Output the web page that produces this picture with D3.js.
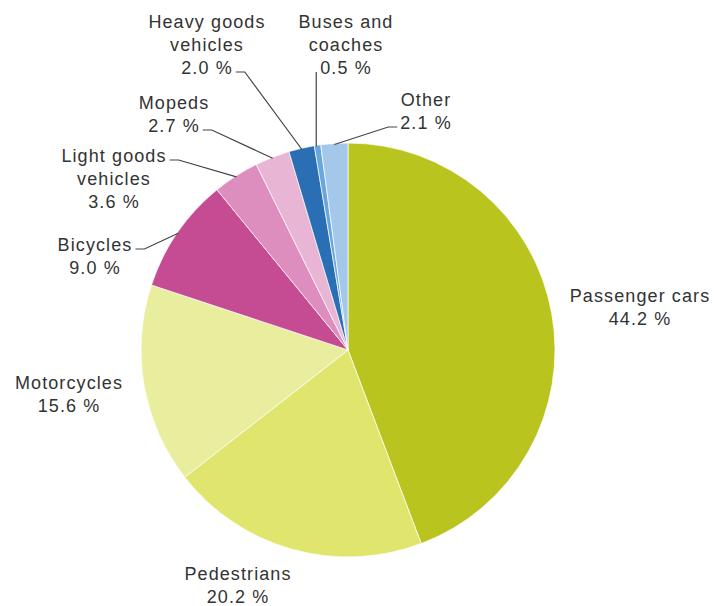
<!DOCTYPE html>
<html>
<head>
<meta charset="utf-8">
<script src="https://cdn.jsdelivr.net/npm/d3@7"></script>
<style>
  body { margin: 0; background: #fff; }
  .label { font-family: 'Liberation Sans', Arial, sans-serif; font-size: 18px; fill: #333; letter-spacing: 1.1px; }
  .leader { fill: none; stroke: #444; stroke-width: 1.2; }
</style>
</head>
<body>
<div id="wrapper"></div>
<script>
// Data
const categories = ['Passenger cars', 'Pedestrians', 'Motorcycles', 'Bicycles', 'Light goods vehicles', 'Mopeds', 'Heavy goods vehicles', 'Buses and coaches', 'Other']
const shares = [44.2, 20.2, 15.6, 9.0, 3.6, 2.7, 2.0, 0.5, 2.1]
const labelLines = [
  ['Passenger cars'],
  ['Pedestrians'],
  ['Motorcycles'],
  ['Bicycles'],
  ['Light goods', 'vehicles'],
  ['Mopeds'],
  ['Heavy goods', 'vehicles'],
  ['Buses and', 'coaches'],
  ['Other']
]
const colors = ['#b9c41f', '#e0e66d', '#e9ee9f', '#c54b93', '#dd8ebf', '#e9b5d5', '#2a6fb3', '#6aa6de', '#a3c8ea']

// Label layout (centre x, first baseline y, which line the leader hangs on, which side)
const labelLayout = [
  { x: 640, y: 302 },
  { x: 238, y: 580 },
  { x: 69, y: 389 },
  { x: 95, y: 251, line: 0, side: 'right' },
  { x: 114, y: 162, line: 0, side: 'right' },
  { x: 174, y: 109, line: 1, side: 'right' },
  { x: 207, y: 28, line: 2, side: 'right' },
  { x: 346, y: 28, line: 2, side: 'left', vertical: true },
  { x: 426, y: 106, line: 1, side: 'left' }
]

const dimensions = { width: 714, height: 606, cx: 348, cy: 350, radius: 207 }
const lineHeight = 23

const svg = d3.select('#wrapper')
  .append('svg')
  .attr('width', dimensions.width)
  .attr('height', dimensions.height)

const pie = d3.pie().sort(null).value(d => d)
const arcs = pie(shares)
const arc = d3.arc().innerRadius(0).outerRadius(dimensions.radius)

const bounds = svg.append('g')
  .attr('transform', `translate(${dimensions.cx},${dimensions.cy})`)

bounds.selectAll('.slice')
  .data(arcs)
  .enter()
  .append('path')
  .attr('class', 'slice')
  .attr('d', arc)
  .attr('fill', (d, i) => colors[i])
  .attr('stroke', '#fff')
  .attr('stroke-width', 0.7)

// Labels
const fmt = d3.format('.1f')
const labels = svg.append('g')

arcs.forEach((a, i) => {
  const lay = labelLayout[i]
  const lines = labelLines[i].concat([`${fmt(shares[i])} %`])
  const txt = labels.append('text')
    .attr('class', 'label')
    .attr('text-anchor', 'middle')
  const spans = lines.map((l, j) => txt.append('tspan')
    .attr('x', lay.x)
    .attr('y', lay.y + j * lineHeight)
    .text(l))

  if (lay.line === undefined) return

  // leader line from the text to the edge of the slice
  const mid = (a.startAngle + a.endAngle) / 2
  const ex = dimensions.cx + Math.sin(mid) * (dimensions.radius - 1)
  const ey = dimensions.cy - Math.cos(mid) * (dimensions.radius - 1)
  const w = spans[lay.line].node().getComputedTextLength()
  const by = lay.y + lay.line * lineHeight - 2
  let pts
  if (lay.vertical) {
    const sx = lay.x - w / 2 - 4
    pts = [[sx, by], [sx, ey]]
  } else if (lay.side === 'right') {
    const sx = lay.x + w / 2 + 3
    pts = [[sx, by], [sx + 9, by], [ex, ey]]
  } else {
    const sx = lay.x - w / 2 - 3
    pts = [[sx, by], [sx - 9, by], [ex, ey]]
  }
  labels.append('path')
    .attr('class', 'leader')
    .attr('d', d3.line()(pts))
})
</script>
</body>
</html>
